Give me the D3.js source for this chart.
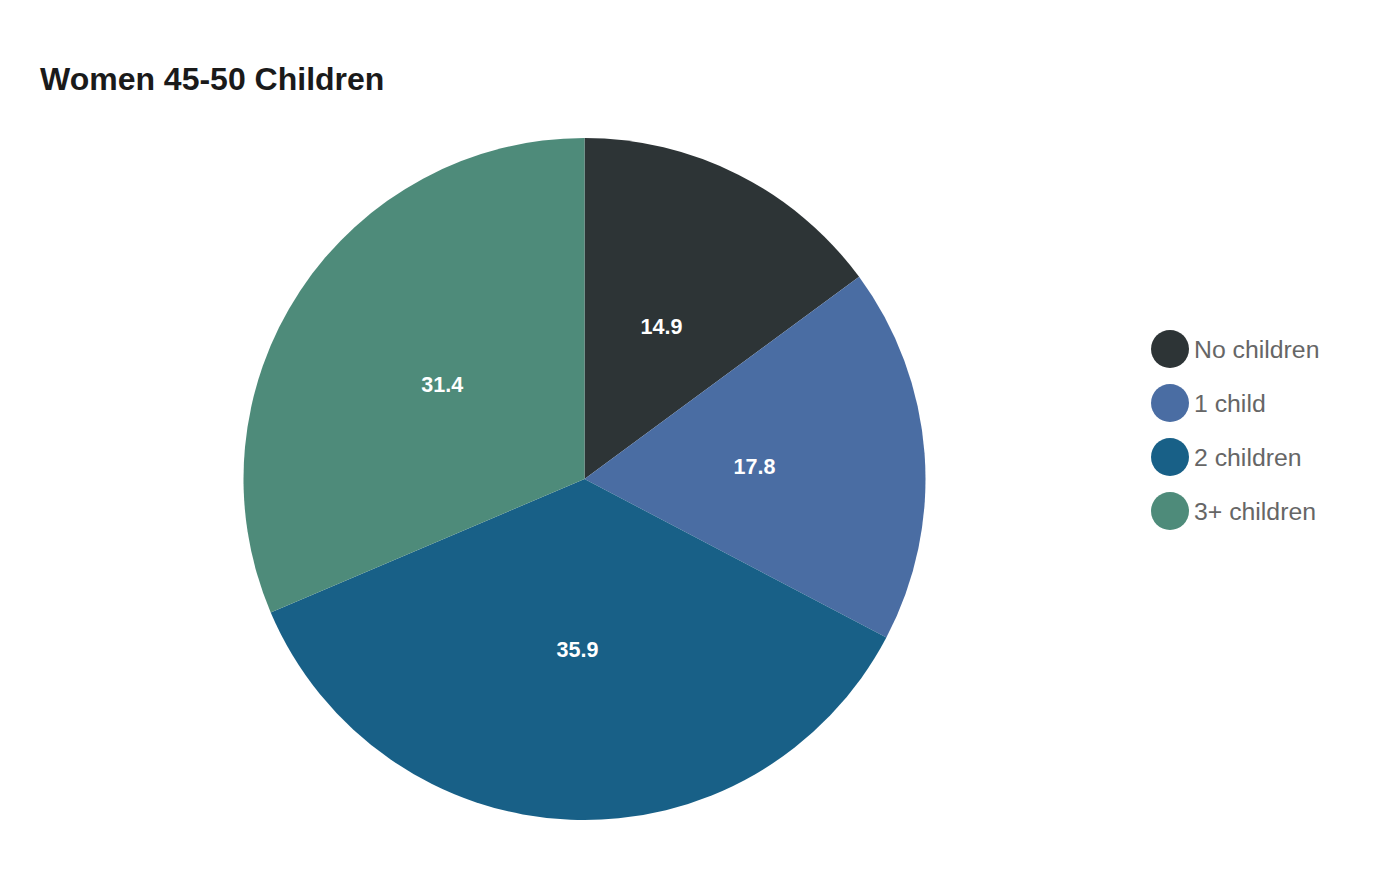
<!DOCTYPE html>
<html>
<head>
<meta charset="utf-8">
<script src="https://cdn.jsdelivr.net/npm/d3@7"></script>
<style>
  body { margin: 0; background: #fff; }
  svg { display: block; font-family: "Liberation Sans", Arial, sans-serif; }
</style>
</head>
<body>
<div id="chart"></div>
<script>
// data
const categories = ["No children", "1 child", "2 children", "3+ children"];
const shares = [14.9, 17.8, 35.9, 31.4];
const colors = ["#2d3436", "#4a6da3", "#186087", "#4e8b7a"];

const width = 1400, height = 880;
const cx = 584.5, cy = 479, radius = 341;

const svg = d3.select("#chart").append("svg")
  .attr("width", width)
  .attr("height", height);

svg.append("text")
  .attr("x", 40)
  .attr("y", 90)
  .attr("font-size", 32)
  .attr("font-weight", "bold")
  .attr("fill", "#1a1a1a")
  .text("Women 45-50 Children");

const rows = categories.map((c, i) => ({ name: c, value: shares[i] }));

const color = d3.scaleOrdinal().domain(categories).range(colors);

const pie = d3.pie()
  .sort(null)
  .value(d => d.value);

const arc = d3.arc().innerRadius(0).outerRadius(radius);

const g = svg.append("g")
  .attr("transform", `translate(${cx},${cy})`);

const slices = g.selectAll("g.slice")
  .data(pie(rows))
  .enter().append("g")
  .attr("class", "slice");

slices.append("path")
  .attr("d", arc)
  .attr("fill", d => color(d.data.name));

slices.append("text")
  .attr("transform", d => `translate(${arc.centroid(d)})`)
  .attr("text-anchor", "middle")
  .attr("dy", "0.35em")
  .attr("font-size", 21.5)
  .attr("font-weight", "bold")
  .attr("fill", "#fff")
  .text(d => d.data.value.toFixed(1));

// legend
const legend = svg.append("g")
  .attr("transform", "translate(1170,349)");

const item = legend.selectAll("g.item")
  .data(categories)
  .enter().append("g")
  .attr("class", "item")
  .attr("transform", (d, i) => `translate(0,${i * 54})`);

item.append("circle")
  .attr("r", 19)
  .attr("fill", d => color(d));

item.append("text")
  .attr("x", 24)
  .attr("dy", "0.35em")
  .attr("font-size", 24.8)
  .attr("fill", "#666")
  .text(d => d);
</script>
</body>
</html>
